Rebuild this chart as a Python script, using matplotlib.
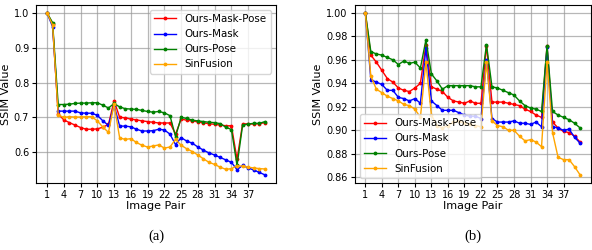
import matplotlib
matplotlib.use('Agg')
import matplotlib.pyplot as plt

# ------------------------------------------------------------------------
# Data: SSIM per image pair (1..40)
# ------------------------------------------------------------------------
pairs = list(range(1, 41))
series_names = ['Ours-Mask-Pose', 'Ours-Mask', 'Ours-Pose', 'SinFusion']
series_colors = ['red', 'blue', 'green', 'orange']

# (a)
a_mask_pose = [1.0, 0.968, 0.710, 0.693, 0.685, 0.678, 0.671, 0.666, 0.666, 0.667,
               0.672, 0.680, 0.748, 0.700, 0.699, 0.695, 0.693, 0.690, 0.688, 0.686,
               0.684, 0.684, 0.684, 0.652, 0.695, 0.692, 0.690, 0.687, 0.684, 0.682,
               0.680, 0.678, 0.676, 0.676, 0.580, 0.682, 0.681, 0.681, 0.682, 0.685]
a_mask = [1.0, 0.960, 0.718, 0.718, 0.718, 0.718, 0.713, 0.712, 0.712, 0.706,
          0.690, 0.677, 0.735, 0.675, 0.675, 0.673, 0.666, 0.661, 0.661, 0.662,
          0.666, 0.664, 0.652, 0.622, 0.642, 0.632, 0.626, 0.615, 0.606, 0.598,
          0.592, 0.585, 0.578, 0.571, 0.550, 0.562, 0.555, 0.549, 0.542, 0.535]
a_pose = [1.0, 0.972, 0.737, 0.737, 0.738, 0.740, 0.741, 0.741, 0.742, 0.742,
          0.735, 0.727, 0.740, 0.730, 0.725, 0.724, 0.723, 0.720, 0.717, 0.715,
          0.717, 0.713, 0.705, 0.645, 0.700, 0.697, 0.692, 0.690, 0.688, 0.686,
          0.685, 0.682, 0.672, 0.665, 0.562, 0.678, 0.681, 0.683, 0.683, 0.688]
a_sinfusion = [1.0, 0.965, 0.707, 0.700, 0.702, 0.701, 0.701, 0.702, 0.702, 0.690,
               0.672, 0.657, 0.738, 0.641, 0.637, 0.639, 0.628, 0.620, 0.615, 0.618,
               0.621, 0.612, 0.615, 0.637, 0.620, 0.610, 0.602, 0.592, 0.581, 0.571,
               0.565, 0.557, 0.551, 0.553, 0.561, 0.560, 0.557, 0.555, 0.553, 0.552]

# (b)
b_mask_pose = [1.0, 0.964, 0.958, 0.951, 0.944, 0.941, 0.936, 0.934, 0.933, 0.936,
               0.940, 0.973, 0.937, 0.935, 0.933, 0.928, 0.925, 0.924, 0.923, 0.925,
               0.923, 0.923, 0.972, 0.924, 0.924, 0.924, 0.923, 0.922, 0.921, 0.918,
               0.916, 0.913, 0.911, 0.972, 0.907, 0.902, 0.899, 0.898, 0.895, 0.890]
b_mask = [1.0, 0.943, 0.941, 0.939, 0.934, 0.934, 0.928, 0.927, 0.925, 0.927,
          0.923, 0.970, 0.925, 0.921, 0.917, 0.917, 0.917, 0.915, 0.913, 0.912,
          0.912, 0.910, 0.960, 0.910, 0.907, 0.907, 0.907, 0.908, 0.906, 0.906,
          0.905, 0.907, 0.903, 0.971, 0.903, 0.902, 0.900, 0.901, 0.894, 0.889]
b_pose = [1.0, 0.967, 0.965, 0.964, 0.962, 0.960, 0.956, 0.959, 0.957, 0.958,
          0.953, 0.977, 0.948, 0.942, 0.935, 0.938, 0.938, 0.938, 0.938, 0.938,
          0.937, 0.937, 0.973, 0.937, 0.936, 0.934, 0.932, 0.930, 0.925, 0.921,
          0.919, 0.918, 0.916, 0.972, 0.916, 0.913, 0.911, 0.909, 0.906, 0.902]
b_sinfusion = [1.0, 0.946, 0.935, 0.932, 0.929, 0.927, 0.925, 0.922, 0.921, 0.918,
               0.911, 0.958, 0.913, 0.904, 0.902, 0.904, 0.907, 0.908, 0.906, 0.905,
               0.904, 0.903, 0.958, 0.908, 0.904, 0.903, 0.900, 0.900, 0.895, 0.891,
               0.892, 0.890, 0.886, 0.958, 0.898, 0.877, 0.875, 0.875, 0.869, 0.862]

x_ticks = list(range(1, 38, 3))
a_yticks = [0.6, 0.7, 0.8, 0.9, 1.0]
b_yticks = [0.86, 0.88, 0.90, 0.92, 0.94, 0.96, 0.98, 1.00]

fig = plt.figure(figsize=(5.92, 2.5), dpi=100)
ax_a = fig.add_axes([0.061, 0.268, 0.405, 0.713])
ax_b = fig.add_axes([0.599, 0.268, 0.399, 0.713])


def draw_panel(ax, data, yticks, yfmt, legend_loc, tag):
    for vals, name, col in zip(data, series_names, series_colors):
        ax.plot(pairs, vals, color=col, lw=1.0, marker='.', markersize=3.5, label=name)
    ax.set_xticks(x_ticks)
    ax.set_yticks(yticks)
    ax.set_yticklabels([yfmt.format(v) for v in yticks])
    ax.tick_params(labelsize=7, length=3, pad=2)
    ax.grid(True, color='0.6', lw=0.9, alpha=0.7)
    ax.set_xlabel('Image Pair', fontsize=8, labelpad=1)
    ax.set_ylabel('SSIM Value', fontsize=8, labelpad=2)
    ax.legend(loc=legend_loc, fontsize=7.4, handlelength=2.2, borderpad=0.4,
              labelspacing=0.5, framealpha=0.8)
    ax.text(0.5, -0.30, tag, transform=ax.transAxes, ha='center', va='center',
            fontsize=10.5, family='Liberation Serif')


draw_panel(ax_a, [a_mask_pose, a_mask, a_pose, a_sinfusion], a_yticks, '{:.1f}',
           'upper right', '(a)')
draw_panel(ax_b, [b_mask_pose, b_mask, b_pose, b_sinfusion], b_yticks, '{:.2f}',
           'lower left', '(b)')

fig.savefig('out.png', dpi=100)
